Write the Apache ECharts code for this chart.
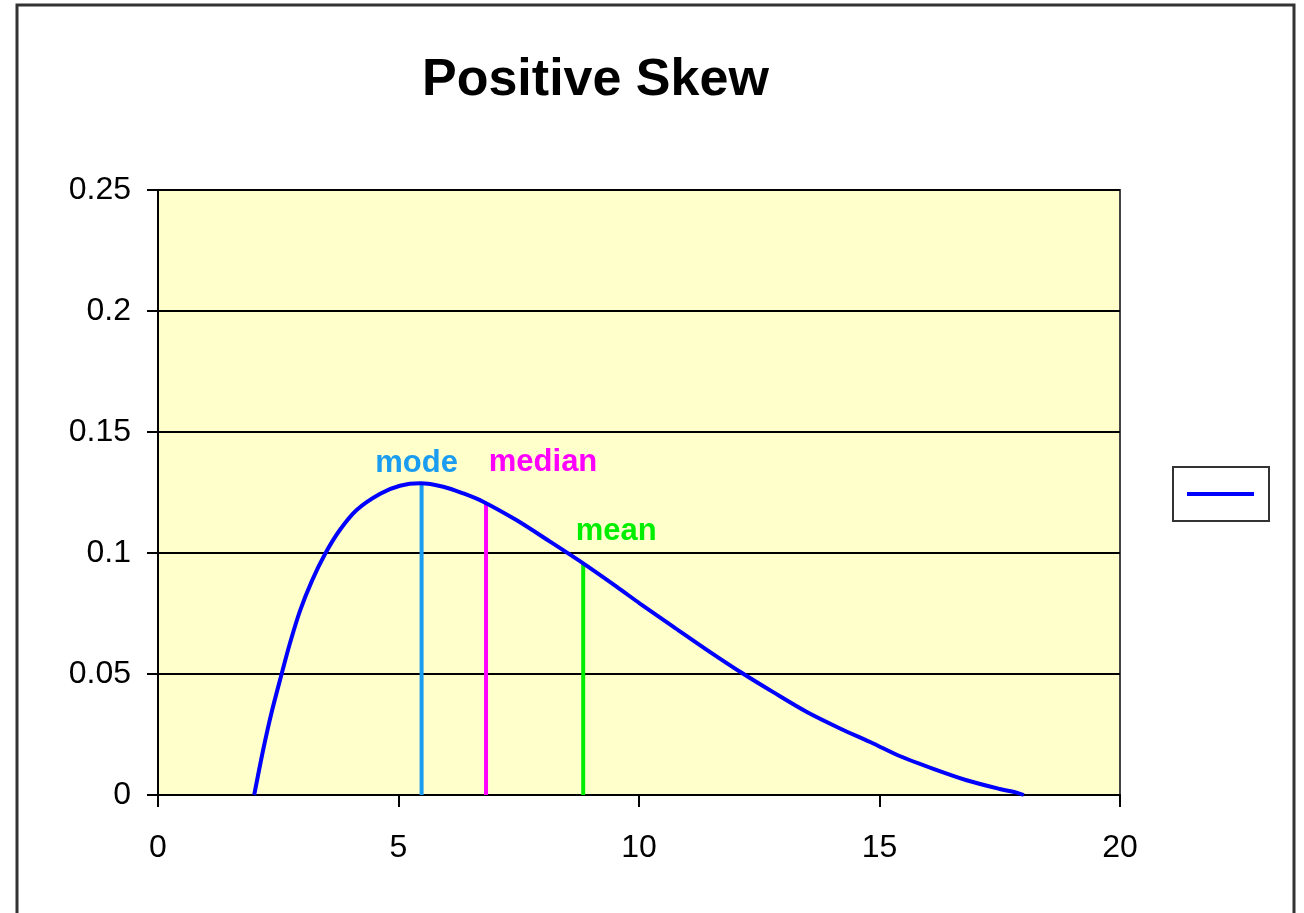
<!DOCTYPE html>
<html>
<head>
<meta charset="utf-8">
<title>Positive Skew</title>
<script src="https://cdn.jsdelivr.net/npm/echarts@6/dist/echarts.min.js"></script>
<style>
  html, body { margin: 0; padding: 0; background: #fff; }
  #chart { width: 1304px; height: 913px; }
</style>
</head>
<body>
<div id="chart"></div>
<script>
// curve: x, density
var curveX = [2.0, 2.19, 2.36, 2.57, 2.74, 2.95, 3.2, 3.47, 3.78, 4.13, 4.62, 5.03, 5.45, 5.93, 6.35, 6.76, 7.45, 8.15, 8.84, 9.54, 10.02, 10.71, 11.41, 12.15, 12.79, 13.49, 14.18, 14.87, 15.43, 16.12, 16.81, 17.5, 17.85, 18.0];
var curveY = [0, 0.019, 0.034, 0.050, 0.0625, 0.076, 0.0885, 0.0995, 0.1095, 0.1178, 0.1245, 0.1278, 0.1288, 0.1274, 0.1246, 0.1212, 0.1136, 0.1047, 0.0957, 0.086, 0.0791, 0.0696, 0.060, 0.0503, 0.0425, 0.0343, 0.0275, 0.0213, 0.016, 0.0108, 0.0061, 0.0025, 0.001, 0];

// mode / median / mean markers
var markNames = ['mode', 'median', 'mean'];
var markX = [5.48, 6.82, 8.84];
var markTop = [0.129, 0.121, 0.0957];
var markColors = ['#1a9cf0', '#ff00ff', '#00ee00'];
var markLabelOffset = [[-5, 0], [57, -20], [33, -12]];

var xTicks = [0, 20, 5];
var yTicks = [0, 0.25, 0.05];

var font = 'Arial, "Liberation Sans", sans-serif';

var curve = [];
for (var i = 0; i < curveX.length; i++) {
    curve.push([curveX[i], curveY[i]]);
}

var series = [{
    name: 'Series1',
    type: 'line',
    data: curve,
    smooth: 0.3,
    showSymbol: false,
    symbol: 'none',
    lineStyle: { color: '#0000ff', width: 4 },
    itemStyle: { color: '#0000ff' },
    z: 5
}];

for (var j = 0; j < markNames.length; j++) {
    series.push({
        name: markNames[j],
        type: 'line',
        data: [
            [markX[j], 0],
            {
                value: [markX[j], markTop[j]],
                label: {
                    show: true,
                    position: 'top',
                    distance: 4,
                    offset: markLabelOffset[j],
                    formatter: markNames[j],
                    color: markColors[j],
                    fontFamily: font,
                    fontWeight: 'bold',
                    fontSize: 31
                }
            }
        ],
        symbol: 'circle',
        symbolSize: 0.1,
        showSymbol: true,
        label: { show: false },
        itemStyle: { color: markColors[j] },
        lineStyle: { color: markColors[j], width: 4 },
        z: 4
    });
}

var myChart = echarts.init(document.getElementById('chart'));
var option = {
    animation: false,
    backgroundColor: '#ffffff',
    title: {
        text: 'Positive Skew',
        left: 417,
        top: 50,
        textStyle: { fontFamily: font, fontWeight: 'bold', fontSize: 52, color: '#000' }
    },
    legend: {
        data: [{ name: 'Series1', icon: 'rect' }],
        left: 1173,
        top: 467,
        orient: 'vertical',
        formatter: function () { return ''; },
        itemWidth: 67,
        itemHeight: 4,
        padding: [25, 15, 25, 14],
        borderColor: '#333',
        borderWidth: 2,
        borderRadius: 0,
        backgroundColor: '#fff',
        selectedMode: false
    },
    grid: {
        left: 158,
        top: 190,
        width: 962,
        height: 605,
        show: true,
        backgroundColor: '#ffffcc',
        borderColor: '#444',
        borderWidth: 2
    },
    xAxis: {
        type: 'value',
        min: xTicks[0],
        max: xTicks[1],
        interval: xTicks[2],
        axisLine: { show: true, onZero: false, lineStyle: { color: '#000', width: 2 } },
        axisTick: { show: true, inside: false, length: 12, lineStyle: { color: '#000', width: 2 } },
        axisLabel: { margin: 37, fontFamily: font, fontSize: 32, color: '#000' },
        splitLine: { show: false }
    },
    yAxis: {
        type: 'value',
        min: yTicks[0],
        max: yTicks[1],
        interval: yTicks[2],
        axisLine: { show: true, lineStyle: { color: '#000', width: 2 } },
        axisTick: { show: true, inside: false, length: 11, lineStyle: { color: '#000', width: 2 } },
        axisLabel: { margin: 27, fontFamily: font, fontSize: 32, color: '#000' },
        splitLine: { show: true, lineStyle: { color: '#000', width: 2 } }
    },
    graphic: [{
        type: 'rect',
        shape: { x: 17, y: 5, width: 1277, height: 1000 },
        style: { fill: 'none', stroke: '#333', lineWidth: 3 },
        silent: true
    }],
    series: series
};
myChart.setOption(option);
window.onresize = function () {
    myChart.resize();
};
</script>
</body>
</html>
